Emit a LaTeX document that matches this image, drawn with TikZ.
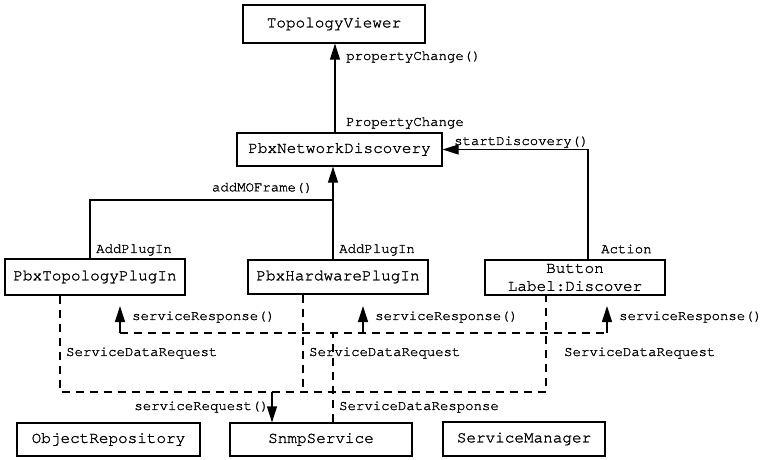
\documentclass[tikz,border=0pt]{standalone}
\usepackage{fontspec}
\setmonofont{TeX Gyre Cursor}[FakeBold=1.3]
\usetikzlibrary{arrows.meta}
\tikzset{
  box/.style={draw, line width=1.2pt, inner sep=0pt, align=center,
    font=\ttfamily\fontsize{16}{18}\selectfont},
  lbl/.style={inner sep=0pt, font=\ttfamily\fontsize{14}{16}\selectfont},
  conn/.style={line width=1.2pt},
  arr/.style={line width=1.2pt, -{Triangle[length=16pt,width=10pt]}},
  dsh/.style={line width=1.2pt, dash pattern=on 8pt off 6pt}
}
\begin{document}
\begin{tikzpicture}[x=1pt,y=-1pt]
\useasboundingbox (0,0) rectangle (761,459);
% boxes
\node[box, minimum width=182pt, minimum height=38pt] (tv) at (334,24) {TopologyViewer};
\node[box, minimum width=205pt, minimum height=33pt] (pnd) at (339.5,149.5) {PbxNetworkDiscovery};
\node[box, minimum width=180pt, minimum height=36pt] (ptp) at (95,277) {PbxTopologyPlugIn};
\node[box, minimum width=180pt, minimum height=34pt] (phw) at (338,277) {PbxHardwarePlugIn};
\node[box, minimum width=180pt, minimum height=35pt] (btn) at (575,277.5) {Button\\Label:Discover};
\node[box, minimum width=183pt, minimum height=33pt] (obj) at (108.5,439.5) {ObjectRepository};
\node[box, minimum width=182pt, minimum height=33pt] (snmp) at (321,439.5) {SnmpService};
\node[box, minimum width=162pt, minimum height=34pt] (smgr) at (524,439) {ServiceManager};
% coordinates
\coordinate (cA) at (335,0);
\coordinate (cB) at (588,0);
\coordinate (jL) at (90,200);
\coordinate (jR) at (333,200);
\coordinate (r1) at (60,392);
\coordinate (r2) at (303,392);
\coordinate (r3) at (546,392);
\coordinate (rq) at (272,392);
\coordinate (s0) at (333,333);
\coordinate (a1) at (120,333);
\coordinate (a2) at (363,333);
\coordinate (a3) at (607,333);
\coordinate (t1) at (120,306);
\coordinate (t2) at (363,306);
\coordinate (t3) at (607,306);
% solid connectors
\draw[arr] (pnd.north -| cA) -- (tv.south -| cA);
\draw[arr] (btn.north -| cB) |- (pnd.east);
\draw[conn] (ptp.north -| jL) -- (jL) -- (jR);
\draw[arr] (phw.north -| jR) -- (pnd.south -| jR);
% dashed request lines
\draw[dsh] (ptp.south -| r1) -- (r1) -- (r3) -- (btn.south -| r3);
\draw[dsh] (phw.south -| r2) -- (r2);
\draw[arr] (rq) -- (snmp.north -| rq);
% dashed response lines
\draw[dsh] (snmp.north -| s0) -- (s0);
\draw[dsh] (a1) -- (a3);
\draw[arr] (a1) -- (t1);
\draw[arr] (a2) -- (t2);
\draw[arr] (a3) -- (t3);
% labels
\node[lbl, anchor=west] (l1) at (346,57) {propertyChange()};
\node[lbl, anchor=west] (l2) at (346,123) {PropertyChange};
\node[lbl, anchor=west] (l3) at (454,142) {startDiscovery()};
\node[lbl, anchor=east] (l4) at (313,188) {addMOFrame()};
\node[lbl, anchor=west] (l5) at (96,250) {AddPlugIn};
\node[lbl, anchor=west] (l6) at (339,250) {AddPlugIn};
\node[lbl, anchor=west] (l7) at (601,249) {Action};
\node[lbl, anchor=west] (l8) at (132,317) {serviceResponse()};
\node[lbl, anchor=west] (l9) at (375,317) {serviceResponse()};
\node[lbl, anchor=west] (l10) at (619,317) {serviceResponse()};
\node[lbl, anchor=west] (l11) at (66,353) {ServiceDataRequest};
\node[lbl, anchor=west] (l12) at (309,353) {ServiceDataRequest};
\node[lbl, anchor=west] (l13) at (564,353) {ServiceDataRequest};
\node[lbl, anchor=east] (l14) at (269,407) {serviceRequest()};
\node[lbl, anchor=west] (l15) at (339,407) {ServiceDataResponse};
\end{tikzpicture}
\end{document}
